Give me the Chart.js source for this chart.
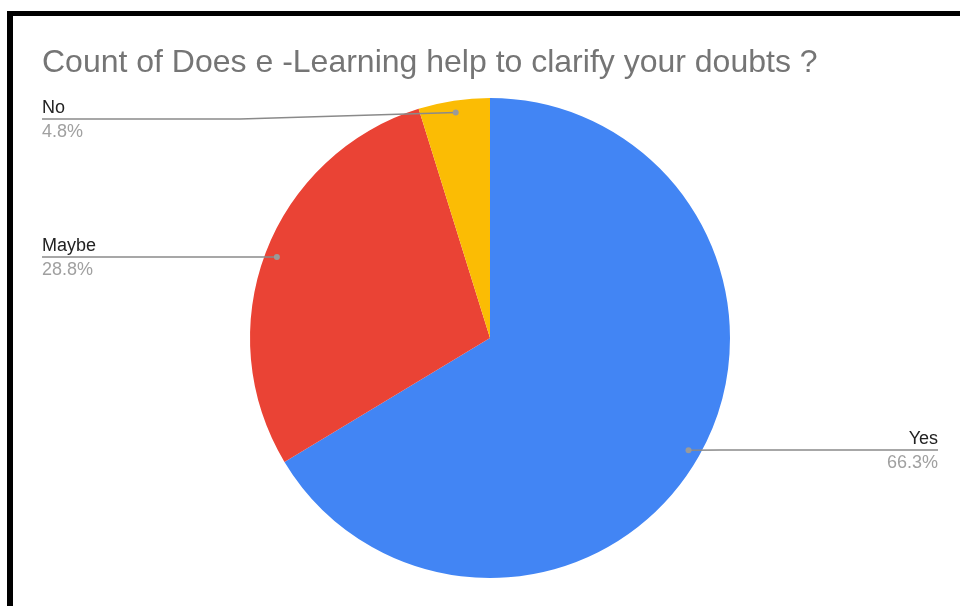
<!DOCTYPE html>
<html lang="en">
<head>
    <meta charset="UTF-8">
    <title>e-Learning survey</title>
    <script src="https://cdn.jsdelivr.net/npm/chart.js"></script>
    <style>
        html, body { margin: 0; padding: 0; background: #fff; overflow: hidden; }
        .wrap { position: relative; width: 960px; height: 606px; }
        .frame {
            position: absolute; left: 7px; top: 11px; width: 1000px; height: 700px;
            border-top: 5px solid #000; border-left: 6px solid #000; pointer-events: none;
        }
    </style>
</head>
<body>
<div class="wrap">
    <canvas id="grafico" width="960" height="606"></canvas>
    <div class="frame"></div>
</div>

<script>
    const titulo = 'Count of Does e -Learning help to clarify your doubts ?';
    const categorias = ['Yes', 'Maybe', 'No'];
    const percentuais = [66.3, 28.8, 4.8];
    const cores = ['#4285F4', '#EA4335', '#FBBC04'];

    // where each label sits: side of the chart and y of its leader line
    const rotulos = [
        { lado: 'right', y: 450 },
        { lado: 'left', y: 257 },
        { lado: 'left', y: 119 }
    ];

    const fonte = '"Liberation Sans", Arial, sans-serif';

    // title + leader-line labels drawn after the pie
    const rotulosPlugin = {
        id: 'rotulos',
        afterDraw(chart) {
            const ctx = chart.ctx;
            ctx.save();
            ctx.fillStyle = '#757575';
            ctx.font = '32px ' + fonte;
            ctx.textBaseline = 'alphabetic';
            ctx.textAlign = 'left';
            ctx.fillText(titulo, 42, 72);

            const arcs = chart.getDatasetMeta(0).data;
            arcs.forEach((arc, i) => {
                const meio = (arc.startAngle + arc.endAngle) / 2;
                const r = arc.outerRadius - 12;
                const px = arc.x + Math.cos(meio) * r;
                const py = arc.y + Math.sin(meio) * r;
                const cfg = rotulos[i];
                const esquerda = cfg.lado === 'left';
                const xFim = esquerda ? 42 : 938;
                const xJoelho = esquerda ? 240 : 720;

                ctx.strokeStyle = '#8a8a8a';
                ctx.lineWidth = 1.5;
                ctx.beginPath();
                ctx.moveTo(xFim, cfg.y);
                ctx.lineTo(xJoelho, cfg.y);
                ctx.lineTo(px, py);
                ctx.stroke();

                ctx.fillStyle = '#9a9a9a';
                ctx.beginPath();
                ctx.arc(px, py, 3, 0, Math.PI * 2);
                ctx.fill();

                ctx.textAlign = esquerda ? 'left' : 'right';
                ctx.font = '18px ' + fonte;
                ctx.fillStyle = '#222222';
                ctx.fillText(categorias[i], xFim, cfg.y - 6);
                ctx.fillStyle = '#a0a0a0';
                ctx.fillText(percentuais[i].toFixed(1) + '%', xFim, cfg.y + 18);
            });
            ctx.restore();
        }
    };

    new Chart(document.getElementById('grafico').getContext('2d'), {
        type: 'pie',
        data: {
            labels: categorias,
            datasets: [{
                data: percentuais,
                backgroundColor: cores,
                borderWidth: 0
            }]
        },
        options: {
            responsive: false,
            animation: false,
            layout: { padding: { top: 98, bottom: 28, left: 20, right: 0 } },
            plugins: {
                legend: { display: false },
                tooltip: { enabled: false }
            }
        },
        plugins: [rotulosPlugin]
    });
</script>
</body>
</html>
